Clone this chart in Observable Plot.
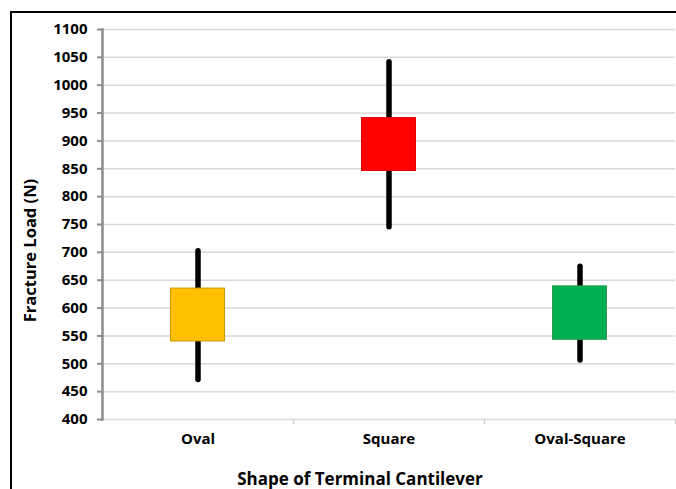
<!DOCTYPE html>
<html>
<head>
<meta charset="utf-8">
<script src="https://cdn.jsdelivr.net/npm/d3@7"></script>
<script src="https://cdn.jsdelivr.net/npm/@observablehq/plot@0.6"></script>
<style>
  html, body { margin: 0; padding: 0; background: #fff; }
  #wrap { position: relative; width: 676px; height: 489px; overflow: hidden; }
  #border { position: absolute; left: 10px; top: 11px; width: 720px; height: 520px; border: 2px solid #000; pointer-events: none; }
</style>
</head>
<body>
<div id="wrap"><div id="border"></div></div>
<script>
const categories = ["Oval", "Square", "Oval-Square"];
const minValues = [471, 745, 506];
const q1Values = [540, 846, 543];
const q3Values = [635, 941, 639];
const maxValues = [702, 1041, 674];
const colors = ["#FFC000", "#FF0000", "#00B050"];
const borderColors = ["#C99700", "#E00000", "#2E9A55"];
const yTicks = d3.range(400, 1101, 50);

const data = categories.map((c, i) => ({
  cat: c, min: minValues[i], q1: q1Values[i], q3: q3Values[i], max: maxValues[i],
  fill: colors[i], stroke: borderColors[i]
}));

const font = "'Open Sans', 'Liberation Sans', sans-serif";

const chart = Plot.plot({
  width: 676,
  height: 489,
  marginLeft: 102,
  marginTop: 29,
  marginBottom: 70,
  marginRight: 1,
  style: { fontFamily: font, background: "transparent", color: "#000" },
  x: { domain: categories, padding: 0, label: null },
  y: { domain: [400, 1100], label: null },
  marks: [
    Plot.gridY(yTicks, { stroke: "#d9d9d9", strokeOpacity: 1, strokeWidth: 1.5 }),
    Plot.axisY(yTicks, { tickSize: 5, tickPadding: 10, tickFormat: d => String(d), stroke: "#8c8c8c", strokeWidth: 2, fontSize: 15, fontWeight: "bold", fill: "#000", label: null }),
    Plot.axisX({ tickSize: 0, tickPadding: 14, fontSize: 15, fontWeight: "bold", fill: "#000", label: null }),
    Plot.axisX({ tickSize: 5, tickFormat: null, dx: 95.5, stroke: "#d0d0d0", strokeWidth: 1.5, label: null }),
    Plot.frame({ anchor: "left", stroke: "#8c8c8c", strokeWidth: 2.5 }),
    Plot.ruleX(data, { x: "cat", y1: "min", y2: "max", stroke: "#000", strokeWidth: 5.5, strokeLinecap: "round" }),
    Plot.barY(data, { x: "cat", y1: "q1", y2: "q3", fill: d => d.fill, stroke: d => d.stroke, strokeWidth: 1, insetLeft: 68.5, insetRight: 68.5 }),
    Plot.text(["Fracture Load (N)"], { frameAnchor: "left", textAnchor: "middle", dx: -72, dy: 26, rotate: -90, fontSize: 16.5, fontWeight: "bold", fill: "#000" }),
    Plot.text(["Shape of Terminal Cantilever"], { frameAnchor: "bottom", dx: -29, dy: 65, fontSize: 17, fontWeight: "bold", fill: "#000" })
  ]
});
document.getElementById("wrap").prepend(chart);
</script>
</body>
</html>
